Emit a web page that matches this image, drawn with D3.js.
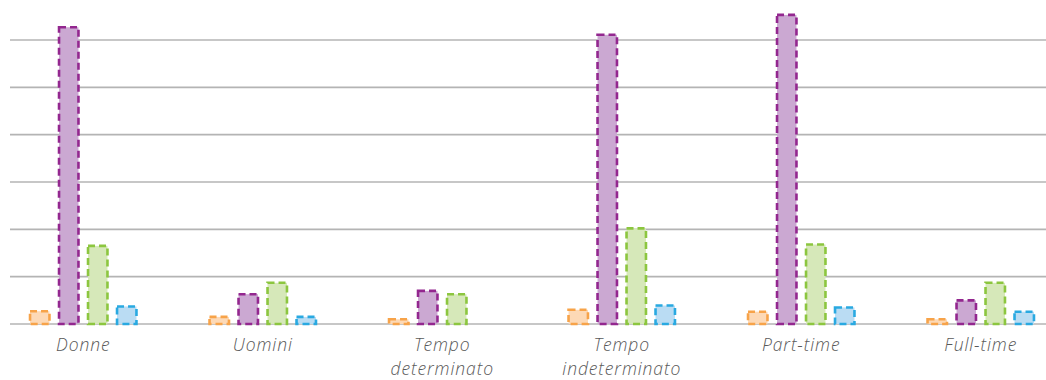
<!DOCTYPE html>
<html>
  <head lang="it">
    <meta charset="utf-8">
    <title>Grafico a barre</title>
    <script type="text/javascript" src="https://cdn.jsdelivr.net/npm/d3@7"></script>
    <style>
      body { margin: 0; background: #ffffff; }
      .label { font-family: "Open Sans", sans-serif; font-style: italic; font-weight: 300; font-size: 17.5px; letter-spacing: 0.9px; fill: #595959; }
    </style>
  </head>
  <body>
    <script type="text/javascript">

      // categories and series (one gridline = 10)
      var categories = [["Donne"], ["Uomini"], ["Tempo", "determinato"], ["Tempo", "indeterminato"], ["Part-time"], ["Full-time"]];
      var series = ["s1", "s2", "s3", "s4"];
      var s1 = [2.7, 1.5, 1.0, 3.0, 2.6, 1.0];
      var s2 = [62.7, 6.3, 7.0, 61.1, 65.3, 5.0];
      var s3 = [16.5, 8.7, 6.3, 20.2, 16.8, 8.7];
      var s4 = [3.7, 1.5, 0, 3.9, 3.5, 2.6];
      var yTicks = [0, 10, 20, 30, 40, 50, 60];

      var strokes = ["#f7a349", "#93278f", "#8cc63f", "#29a9e1"];
      var fills = ["#fdd9b6", "#cba8d2", "#d6e8b9", "#badcf3"];

      var width = 1046, height = 380;
      var baseY = 324, topY = 40;

      var svg = d3.select("body")
                  .append("svg")
                  .attr("width", width)
                  .attr("height", height);

      var names = categories.map(function(c) { return c.join(" "); });
      var values = [s1, s2, s3, s4];

      // outer scale per category, inner per series
      var x0 = d3.scaleBand()
          .domain(names)
          .range([-6.5, 1070.5])
          .paddingInner(0.315)
          .paddingOuter(0.1575);

      var x1 = d3.scaleBand()
          .domain(series)
          .range([0, x0.bandwidth()])
          .paddingInner(0.24)
          .paddingOuter(0.24);

      var y = d3.scaleLinear()
          .domain([0, 60])
          .range([baseY, topY]);

      // gridlines
      svg.append("g")
          .selectAll("line")
          .data(yTicks)
          .enter()
          .append("line")
          .attr("x1", 10)
          .attr("x2", width)
          .attr("y1", function(d) { return y(d); })
          .attr("y2", function(d) { return y(d); })
          .attr("stroke", "#b4b4b4")
          .attr("stroke-width", 1.6);

      // bars
      var groups = svg.append("g")
          .selectAll("g")
          .data(names)
          .enter()
          .append("g")
          .attr("transform", function(d) { return "translate(" + x0(d) + ",0)"; });

      groups.selectAll("rect")
          .data(function(d, i) {
            return series.map(function(s, j) { return {s: s, j: j, v: values[j][i]}; })
                         .filter(function(b) { return b.v > 0; });
          })
          .enter()
          .append("rect")
          .attr("x", function(d) { return x1(d.s) + 1.3; })
          .attr("y", function(d) { return y(d.v); })
          .attr("width", x1.bandwidth() - 2.6)
          .attr("height", function(d) { return baseY - y(d.v); })
          .attr("fill", function(d) { return fills[d.j]; })
          .attr("stroke", function(d) { return strokes[d.j]; })
          .attr("stroke-width", 2.6)
          .attr("stroke-dasharray", "7,4");

      // category labels
      var labels = svg.append("g")
          .selectAll("text")
          .data(categories)
          .enter()
          .append("text")
          .attr("class", "label")
          .attr("text-anchor", "middle")
          .attr("x", function(d, i) { return x0(names[i]) + x0.bandwidth() / 2; })
          .attr("y", 351);

      labels.selectAll("tspan")
          .data(function(d) { return d; })
          .enter()
          .append("tspan")
          .attr("x", function() { return d3.select(this.parentNode).attr("x"); })
          .attr("dy", function(d, i) { return i == 0 ? 0 : 23.5; })
          .text(function(d) { return d; });
    </script>
  </body>
</html>
